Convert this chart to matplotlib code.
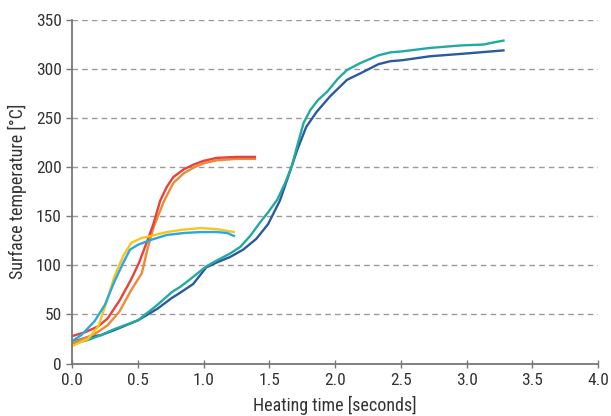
import matplotlib
matplotlib.use("Agg")
import matplotlib.pyplot as plt
from matplotlib import font_manager

# curves: (time [s], temperature [C])
red_t = [0.0, 0.1, 0.2, 0.27, 0.36, 0.45, 0.51, 0.58, 0.62, 0.67, 0.72, 0.77, 0.85, 0.93, 1.0, 1.1, 1.25, 1.39]
red_y = [28, 32, 38, 46, 64, 86, 103, 128, 143, 166, 180, 190, 198, 203, 206.5, 209.5, 210.5, 210.5]

orange_t = [0.0, 0.1, 0.17, 0.27, 0.36, 0.45, 0.53, 0.57, 0.62, 0.70, 0.77, 0.85, 0.93, 1.0, 1.1, 1.25, 1.39]
orange_y = [21, 26, 30, 39, 53, 75, 92, 115, 139, 166, 184, 194, 200, 204, 207, 208.5, 208.5]

yellow_t = [0.0, 0.12, 0.20, 0.26, 0.32, 0.39, 0.45, 0.53, 0.6, 0.72, 0.85, 0.98, 1.1, 1.23]
yellow_y = [18, 25, 38, 62, 88, 110, 123, 128, 130, 134, 136.5, 138, 137, 134]

blue_t = [0.0, 0.07, 0.17, 0.25, 0.32, 0.39, 0.44, 0.50, 0.6, 0.72, 0.85, 0.98, 1.1, 1.18, 1.23]
blue_y = [23, 29, 43, 60, 83, 103, 116, 121, 126, 131, 133, 134, 134, 133, 130]

navy_t = [0.0, 0.12, 0.22, 0.32, 0.5, 0.65, 0.76, 0.82, 0.92, 1.02, 1.1, 1.20, 1.30, 1.40, 1.49,
          1.58, 1.66, 1.71, 1.78, 1.86, 1.96, 2.09, 2.19, 2.33, 2.42, 2.51, 2.72, 3.01, 3.28]
navy_y = [22, 27, 29, 34, 44, 56, 67, 72, 81, 98, 103, 108.5, 116, 127, 142,
          166, 197, 217, 241, 256.5, 272, 289, 295.5, 305, 308, 309, 313, 316, 319]

teal_t = [0.0, 0.12, 0.22, 0.32, 0.5, 0.65, 0.76, 0.82, 0.88, 1.02, 1.10, 1.20, 1.28, 1.36, 1.43,
          1.49, 1.56, 1.62, 1.67, 1.71, 1.76, 1.81, 1.87, 1.94, 2.02, 2.09, 2.19, 2.33, 2.42,
          2.51, 2.72, 2.95, 3.13, 3.20, 3.28]
teal_y = [20, 24, 29, 35, 44, 60, 73, 78, 84, 99, 105, 112, 119, 131, 144,
          154, 167, 184, 201, 221, 245, 258, 268.5, 277, 290, 299, 306, 314, 317,
          318, 321.5, 324, 325, 327, 329]

x_ticks = [0.0, 0.5, 1.0, 1.5, 2.0, 2.5, 3.0, 3.5, 4.0]
y_ticks = [0, 50, 100, 150, 200, 250, 300, 350]

installed = {f.name for f in font_manager.fontManager.ttflist}
fams = [f for f in ["Roboto Condensed", "Liberation Sans Narrow"] if f in installed]
plt.rcParams["font.family"] = fams + ["DejaVu Sans"]

fig = plt.figure(figsize=(6.11, 4.16), dpi=100)
ax = fig.add_axes([0.118, 0.126, 0.861, 0.826])

for y in y_ticks[1:]:
    ax.axhline(y, color="#9a9a9a", lw=1.0, ls=(0, (4, 3)), zorder=0)

lw = 1.7
ax.plot(navy_t, navy_y, color="#2b5a9e", lw=lw)
ax.plot(teal_t, teal_y, color="#22a9a2", lw=lw)
ax.plot(orange_t, orange_y, color="#ec8a35", lw=lw)
ax.plot(red_t, red_y, color="#e8403a", lw=lw)
ax.plot(yellow_t, yellow_y, color="#f7c51c", lw=lw)
ax.plot(blue_t, blue_y, color="#2aa8de", lw=lw)

ax.set_xlim(0, 4.0)
ax.set_ylim(0, 350)
ax.set_xticks(x_ticks)
ax.set_xticklabels([f"{v:.1f}" for v in x_ticks])
ax.set_yticks(y_ticks)

for s in ["top", "right"]:
    ax.spines[s].set_visible(False)
for s in ["left", "bottom"]:
    ax.spines[s].set_color("#777777")
    ax.spines[s].set_linewidth(1.3)
ax.tick_params(axis="both", colors="#777777", labelcolor="#333333", labelsize=12.5, length=4, width=1.0)
ax.tick_params(axis="x", direction="inout", length=6)

ax.set_xlabel("Heating time [seconds]", fontsize=13, color="#333333", labelpad=6)
ax.set_ylabel("Surface temperature [°C]", fontsize=13, color="#333333", labelpad=6)

fig.savefig("out.png", dpi=100)
